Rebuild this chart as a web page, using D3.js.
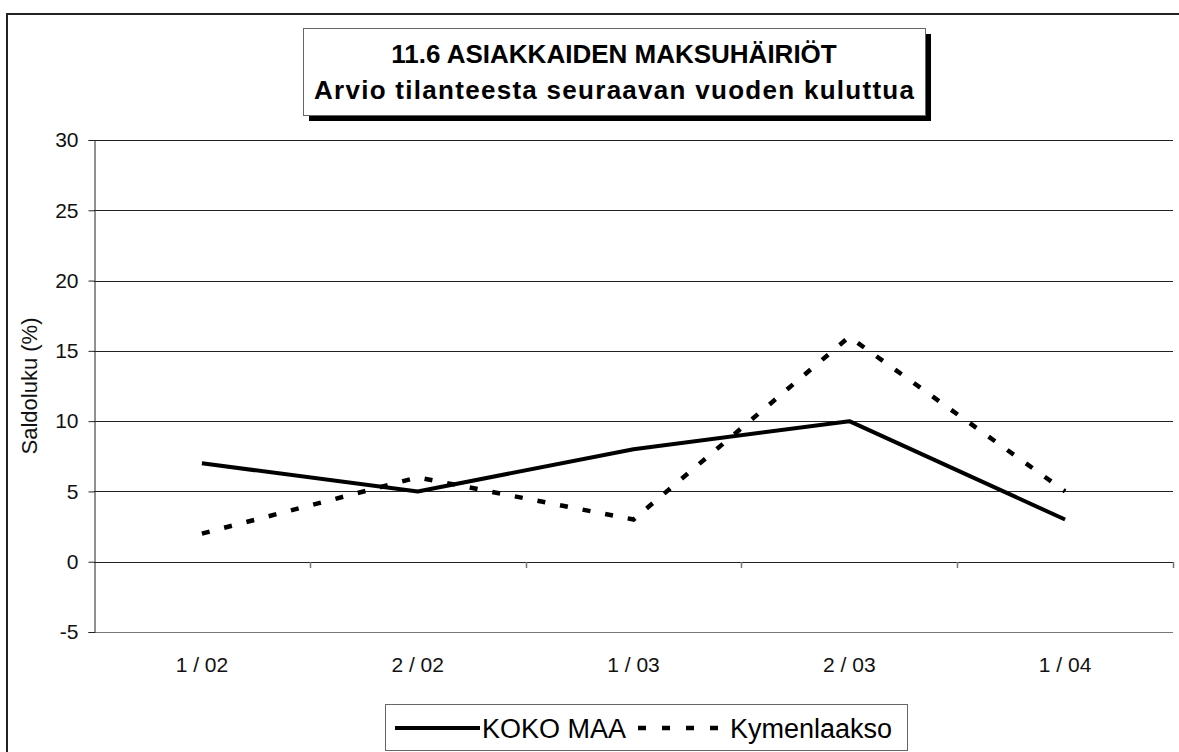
<!DOCTYPE html>
<html>
<head>
<meta charset="utf-8">
<script src="https://cdn.jsdelivr.net/npm/d3@7"></script>
<style>
  html, body { margin: 0; padding: 0; background: #fff; }
  svg { display: block; font-family: "Liberation Sans", Arial, sans-serif; }
</style>
</head>
<body>
<svg id="chart" width="1179" height="752"></svg>
<script>
'use strict';
// ── Data ────────────────────────────────────────────────────────────────
const categories  = ['1 / 02', '2 / 02', '1 / 03', '2 / 03', '1 / 04'];
const kokoMaa     = [7, 5, 8, 10, 3];
const kymenlaakso = [2, 6, 3, 16, 5];
const yTicks      = [-5, 0, 5, 10, 15, 20, 25, 30];
const titleLines  = ['11.6 ASIAKKAIDEN MAKSUHÄIRIÖT', 'Arvio tilanteesta seuraavan vuoden kuluttua'];
const seriesNames = ['KOKO MAA', 'Kymenlaakso'];

const svg = d3.select('#chart');
const W = 1179, H = 752;
const plot = { left: 94, right: 1173, top: 140, bottom: 632 };

// ── Outer frame ────────────────────────────────────────────────────────
svg.append('rect')
  .attr('x', 7).attr('y', 14).attr('width', W + 20).attr('height', H + 20)
  .attr('fill', '#fff').attr('stroke', '#222').attr('stroke-width', 2);

// ── Scales ─────────────────────────────────────────────────────────────
const x = d3.scaleBand().domain(categories).range([plot.left, plot.right]);
const y = d3.scaleLinear().domain([-5, 30]).range([plot.bottom, plot.top]);
const cx = d => x(d) + x.bandwidth() / 2;

// ── Gridlines ──────────────────────────────────────────────────────────
svg.append('g').selectAll('line')
  .data(yTicks).join('line')
  .attr('x1', plot.left).attr('x2', plot.right)
  .attr('y1', d => Math.round(y(d)) + 0.5).attr('y2', d => Math.round(y(d)) + 0.5)
  .attr('stroke', d => d === -5 ? '#777' : '#222').attr('stroke-width', 1);

// ── Y axis ─────────────────────────────────────────────────────────────
const yAxis = svg.append('g')
  .attr('transform', `translate(${plot.left + 0.5},0)`)
  .call(d3.axisLeft(y).tickValues(yTicks).tickSize(6).tickPadding(10).tickFormat(d => String(d)));
yAxis.select('.domain').attr('stroke', '#222');
yAxis.selectAll('.tick line').attr('stroke', '#222');
yAxis.selectAll('.tick text')
  .attr('font-size', 21).attr('fill', '#111')
  .attr('font-family', '"Liberation Sans", Arial, sans-serif');

// ── X axis (crossing at zero) ─────────────────────────────────────────
const bounds = categories.map(c => x(c)).concat([plot.right]);
svg.append('g').selectAll('line')
  .data(bounds.slice(1)).join('line')
  .attr('x1', d => Math.round(d) + 0.5).attr('x2', d => Math.round(d) + 0.5)
  .attr('y1', Math.round(y(0))).attr('y2', Math.round(y(0)) + 6)
  .attr('stroke', '#777').attr('stroke-width', 1.5);

svg.append('g').selectAll('text')
  .data(categories).join('text')
  .attr('x', d => cx(d)).attr('y', 672)
  .attr('text-anchor', 'middle')
  .attr('font-size', 21).attr('fill', '#111')
  .text(d => d);

// ── Lines ──────────────────────────────────────────────────────────────
const line = d3.line().x((d, i) => cx(categories[i])).y(d => y(d));

svg.append('path')
  .datum(kymenlaakso)
  .attr('d', line)
  .attr('fill', 'none').attr('stroke', '#000')
  .attr('stroke-width', 4.5).attr('stroke-dasharray', '8,15');

svg.append('path')
  .datum(kokoMaa)
  .attr('d', line)
  .attr('fill', 'none').attr('stroke', '#000')
  .attr('stroke-width', 4).attr('stroke-linejoin', 'round');

// ── Y title ────────────────────────────────────────────────────────────
svg.append('text')
  .attr('transform', `translate(37,${(plot.top + plot.bottom) / 2}) rotate(-90)`)
  .attr('text-anchor', 'middle')
  .attr('font-size', 22).attr('fill', '#111')
  .text('Saldoluku (%)');

// ── Title box ──────────────────────────────────────────────────────────
const tb = { x: 303, y: 28, w: 622, h: 87, sh: 6 };
svg.append('rect')
  .attr('x', tb.x + tb.sh).attr('y', tb.y + tb.sh).attr('width', tb.w).attr('height', tb.h)
  .attr('fill', '#000');
svg.append('rect')
  .attr('x', tb.x + 0.5).attr('y', tb.y + 0.5).attr('width', tb.w).attr('height', tb.h)
  .attr('fill', '#fff').attr('stroke', '#666').attr('stroke-width', 1);
svg.append('text')
  .attr('x', tb.x + tb.w / 2).attr('y', 63)
  .attr('text-anchor', 'middle')
  .attr('font-size', 26).attr('font-weight', 'bold').attr('fill', '#000')
  .text(titleLines[0]);
svg.append('text')
  .attr('x', tb.x + 11).attr('y', 99)
  .attr('textLength', tb.w - 22).attr('lengthAdjust', 'spacing')
  .attr('font-size', 26).attr('font-weight', 'bold').attr('fill', '#000')
  .text(titleLines[1]);

// ── Legend ─────────────────────────────────────────────────────────────
const lg = { x: 385, y: 704, w: 522, h: 46 };
svg.append('rect')
  .attr('x', lg.x + 0.5).attr('y', lg.y + 0.5).attr('width', lg.w).attr('height', lg.h)
  .attr('fill', '#fff').attr('stroke', '#666').attr('stroke-width', 1);

const lgY = lg.y + 24;
let cur = lg.x + 10;
svg.append('line')
  .attr('x1', cur).attr('x2', cur + 85).attr('y1', lgY).attr('y2', lgY)
  .attr('stroke', '#000').attr('stroke-width', 4);
cur += 87;
const t1 = svg.append('text')
  .attr('x', cur).attr('y', lgY + 10)
  .attr('font-size', 27).attr('fill', '#000')
  .text(seriesNames[0]);
cur += t1.node().getComputedTextLength() + 12;
svg.append('line')
  .attr('x1', cur).attr('x2', cur + 80).attr('y1', lgY).attr('y2', lgY)
  .attr('stroke', '#000').attr('stroke-width', 4.5).attr('stroke-dasharray', '8,16');
cur += 92;
svg.append('text')
  .attr('x', cur).attr('y', lgY + 10)
  .attr('font-size', 27).attr('fill', '#000')
  .text(seriesNames[1]);
</script>
</body>
</html>
